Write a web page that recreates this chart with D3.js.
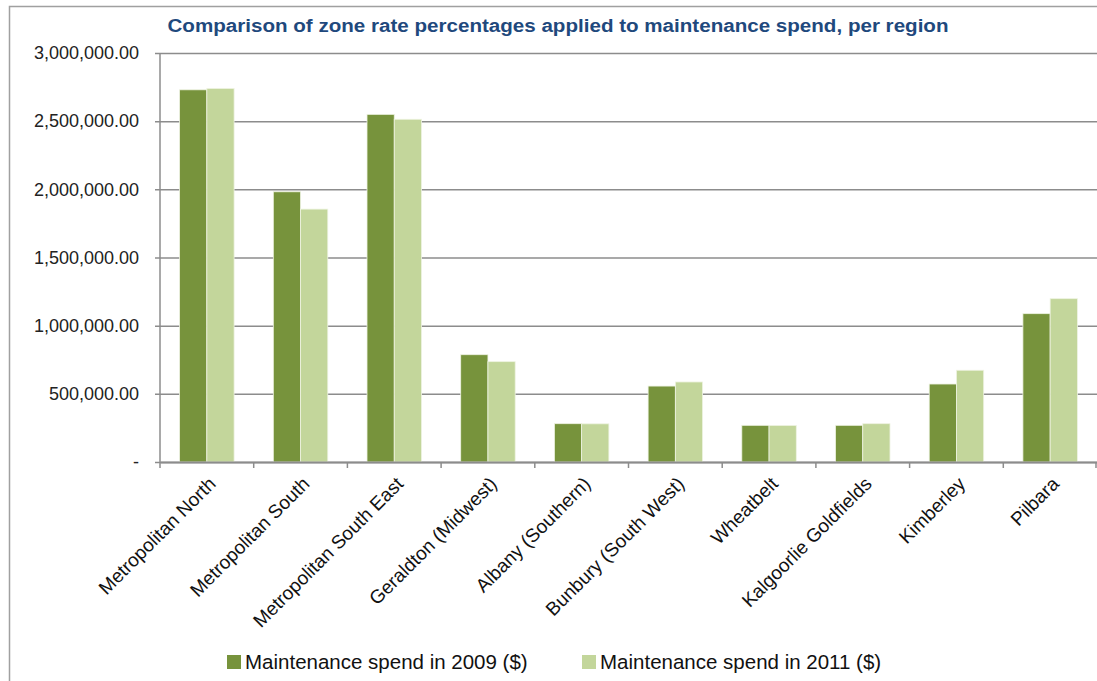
<!DOCTYPE html>
<html>
<head>
<meta charset="utf-8">
<script src="https://cdn.jsdelivr.net/npm/d3@7"></script>
<style>
  body { margin: 0; background: #fff; }
  svg { display: block; font-family: "Liberation Sans", Arial, sans-serif; }
</style>
</head>
<body>
<svg id="chart" width="1097" height="681"></svg>
<script>
const regions = ['Metropolitan North', 'Metropolitan South', 'Metropolitan South East',
    'Geraldton (Midwest)', 'Albany (Southern)', 'Bunbury (South West)', 'Wheatbelt',
    'Kalgoorlie Goldfields', 'Kimberley', 'Pilbara']
const spend2009 = [2730000, 1982000, 2550000, 787000, 281000, 557000, 269000, 269000, 572000, 1088000]
const spend2011 = [2740000, 1855000, 2514000, 736000, 280000, 587000, 268000, 281000, 673000, 1198000]
const seriesNames = ['Maintenance spend in 2009 ($)', 'Maintenance spend in 2011 ($)']
const seriesColors = ['#77933c', '#c3d69b']
const yTicks = [0, 500000, 1000000, 1500000, 2000000, 2500000, 3000000]
const title = 'Comparison of zone rate percentages applied to maintenance spend, per region'

let svg = d3.select('#chart')

// outer frame
svg.append('rect')
    .attr('x', 9.5).attr('y', 6.5)
    .attr('width', 1200).attr('height', 800)
    .attr('fill', 'none')
    .attr('stroke', '#a0a0a0')
    .attr('stroke-width', 1.5)

let x = d3.scaleBand().domain(regions).range([160, 1097])
let xs = d3.scaleBand().domain([0, 1]).range([0, x.bandwidth()]).paddingOuter(0.72)
let y = d3.scaleLinear().domain([0, 3000000]).range([462, 53])

// gridlines + y axis
let yAxis = d3.axisLeft(y)
    .tickValues(yTicks)
    .tickSize(-(1097 - 155))
    .tickSizeOuter(0)
    .tickFormat(d => d === 0 ? '-' : d3.format(',.2f')(d))

let gy = svg.append('g').attr('transform', 'translate(155,0)').call(yAxis)
gy.select('.domain').remove()
gy.selectAll('line').attr('stroke', '#8c8c8c').attr('stroke-width', 1.5)
gy.selectAll('text').attr('font-size', 18).attr('fill', '#222').attr('x', -16)

// bars
let series = [spend2009, spend2011]
let groups = svg.append('g').selectAll('g')
    .data(regions)
    .enter()
    .append('g')
    .attr('transform', d => 'translate(' + x(d) + ',0)')

groups.selectAll('rect')
    .data((d, i) => series.map((s, k) => ({ k: k, v: s[i] })))
    .enter()
    .append('rect')
    .attr('x', d => xs(d.k))
    .attr('width', xs.bandwidth())
    .attr('y', d => y(d.v))
    .attr('height', d => y(0) - y(d.v))
    .attr('fill', d => seriesColors[d.k])
    .attr('stroke', '#eef3e2')
    .attr('stroke-width', 0.8)

// y axis line
svg.append('line')
    .attr('x1', 160).attr('x2', 160)
    .attr('y1', 53).attr('y2', 462)
    .attr('stroke', '#8c8c8c').attr('stroke-width', 1.5)

// x axis
let xAxis = d3.axisBottom(x).tickSize(0).tickSizeOuter(0)
let gx = svg.append('g').attr('transform', 'translate(0,462)').call(xAxis)
gx.select('.domain').attr('stroke', '#8c8c8c').attr('stroke-width', 2)
gx.selectAll('.tick line').remove()
gx.selectAll('text')
    .attr('font-size', 19)
    .attr('fill', '#111')
    .attr('text-anchor', 'end')
    .attr('dy', 0)
    .attr('transform', 'translate(8,21) rotate(-45)')

// x tick marks at band boundaries
svg.append('g').selectAll('line')
    .data(regions.concat(['end']))
    .enter()
    .append('line')
    .attr('x1', (d, i) => i < regions.length ? x(d) : x.range()[1] - 1)
    .attr('x2', (d, i) => i < regions.length ? x(d) : x.range()[1] - 1)
    .attr('y1', 462).attr('y2', 468)
    .attr('stroke', '#8c8c8c').attr('stroke-width', 1.5)

// title
svg.append('text')
    .attr('x', 558).attr('y', 32)
    .attr('text-anchor', 'middle')
    .attr('font-size', 18)
    .attr('font-weight', 'bold')
    .attr('fill', '#1f497d')
    .attr('textLength', 781)
    .attr('lengthAdjust', 'spacingAndGlyphs')
    .text(title)

// legend
let legendX = [227, 582]
let legend = svg.append('g').selectAll('g')
    .data(seriesNames)
    .enter()
    .append('g')
    .attr('transform', (d, i) => 'translate(' + legendX[i] + ',655)')
legend.append('rect')
    .attr('width', 14).attr('height', 14)
    .attr('fill', (d, i) => seriesColors[i])
legend.append('text')
    .attr('x', 18).attr('y', 14)
    .attr('font-size', 20.5)
    .attr('fill', '#111')
    .text(d => d)
</script>
</body>
</html>
